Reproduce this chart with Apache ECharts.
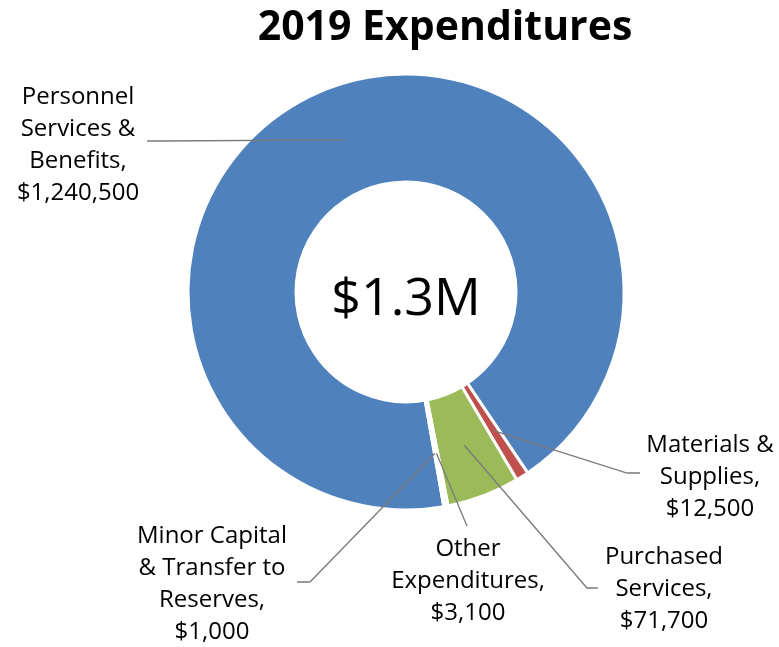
<!DOCTYPE html>
<html>
<head>
<meta charset="utf-8">
<script src="https://cdn.jsdelivr.net/npm/echarts@6/dist/echarts.min.js"></script>
<style>
  html, body { margin: 0; padding: 0; background: #fff; }
  #chart { width: 779px; height: 647px; }
</style>
</head>
<body>
<div id="chart"></div>
<script>
// Expenditure categories (line breaks as shown in the labels)
const categories = [
  'Personnel\nServices &\nBenefits',
  'Materials &\nSupplies',
  'Purchased\nServices',
  'Other\nExpenditures',
  'Minor Capital\n& Transfer to\nReserves'
];
// Amounts in dollars
const amounts = [1240500, 12500, 71700, 3100, 1000];
const sliceColors = ['#4F81BD', '#C0504D', '#9BBB59', '#8064A2', '#4BACC6'];

// Label anchors and leader-line elbows/ends (pixels)
const labelSpots = [
  { x: 78,  y: 145, elbow: [160, 141], end: [147, 141] },
  { x: 710, y: 477, elbow: [627, 473], end: [640, 473] },
  { x: 664, y: 589, elbow: [587, 588], end: [598, 588] },
  { x: 468, y: 581, elbow: [467, 526], end: [467, 526] },
  { x: 212, y: 584, elbow: [310, 582], end: [297, 582] }
];

const total = amounts.reduce((a, b) => a + b, 0);
const centerText = '$' + (total / 1e6).toFixed(1) + 'M';

const chart = echarts.init(document.getElementById('chart'), null, { renderer: 'canvas' });

// Leader lines start at the middle of the ring, at the slice's mid-angle
function leaderStart(seriesIndex, idx) {
  const data = chart.getModel().getSeriesByIndex(seriesIndex).getData();
  const lay = data.getItemLayout(idx);
  const mid = (lay.startAngle + lay.endAngle) / 2;
  const rm = (lay.r + lay.r0) / 2;
  return [lay.cx + rm * Math.cos(mid), lay.cy + rm * Math.sin(mid)];
}

const pieData = categories.map((name, i) => ({
  name: name,
  value: amounts[i],
  itemStyle: { color: sliceColors[i] }
}));

const ring = {
  type: 'pie',
  center: [406, 292],
  radius: [110, 218],
  startAngle: -80,
  clockwise: true,
  avoidLabelOverlap: false,
  emphasis: { disabled: true },
  silent: true
};

chart.setOption({
  animation: false,
  backgroundColor: '#fff',
  graphic: [
    {
      type: 'text', x: 445, y: 28, z: 10,
      style: {
        text: '2019 Expenditures', align: 'center', verticalAlign: 'middle',
        font: 'bold 41px "Open Sans"', fill: '#000'
      }
    },
    {
      type: 'text', x: 406, y: 300, z: 10,
      style: {
        text: centerText, align: 'center', verticalAlign: 'middle',
        font: '52px "Open Sans"', fill: '#000'
      }
    }
  ],
  series: [
    // Coloured ring
    Object.assign({}, ring, {
      z: 2,
      itemStyle: { borderColor: '#fff', borderWidth: 3 },
      label: { show: false },
      labelLine: { show: false },
      data: pieData
    }),
    // Same ring, transparent, carrying labels and leader lines drawn over the slices
    Object.assign({}, ring, {
      z: 3,
      itemStyle: { color: 'rgba(0,0,0,0)', borderWidth: 0 },
      label: {
        show: true,
        position: 'outside',
        fontFamily: 'Open Sans',
        fontSize: 24,
        lineHeight: 32,
        color: '#000',
        formatter: p => p.name + ',\n$' + p.value.toLocaleString('en-US')
      },
      labelLine: {
        show: true,
        lineStyle: { color: '#7a7a7a', width: 1.3 }
      },
      labelLayout: function (params) {
        const i = params.dataIndex;
        const spot = labelSpots[i];
        return {
          x: spot.x,
          y: spot.y,
          align: 'center',
          verticalAlign: 'middle',
          labelLinePoints: [leaderStart(1, i), spot.elbow, spot.end]
        };
      },
      data: categories.map((name, i) => ({ name: name, value: amounts[i] }))
    })
  ]
});
</script>
</body>
</html>
